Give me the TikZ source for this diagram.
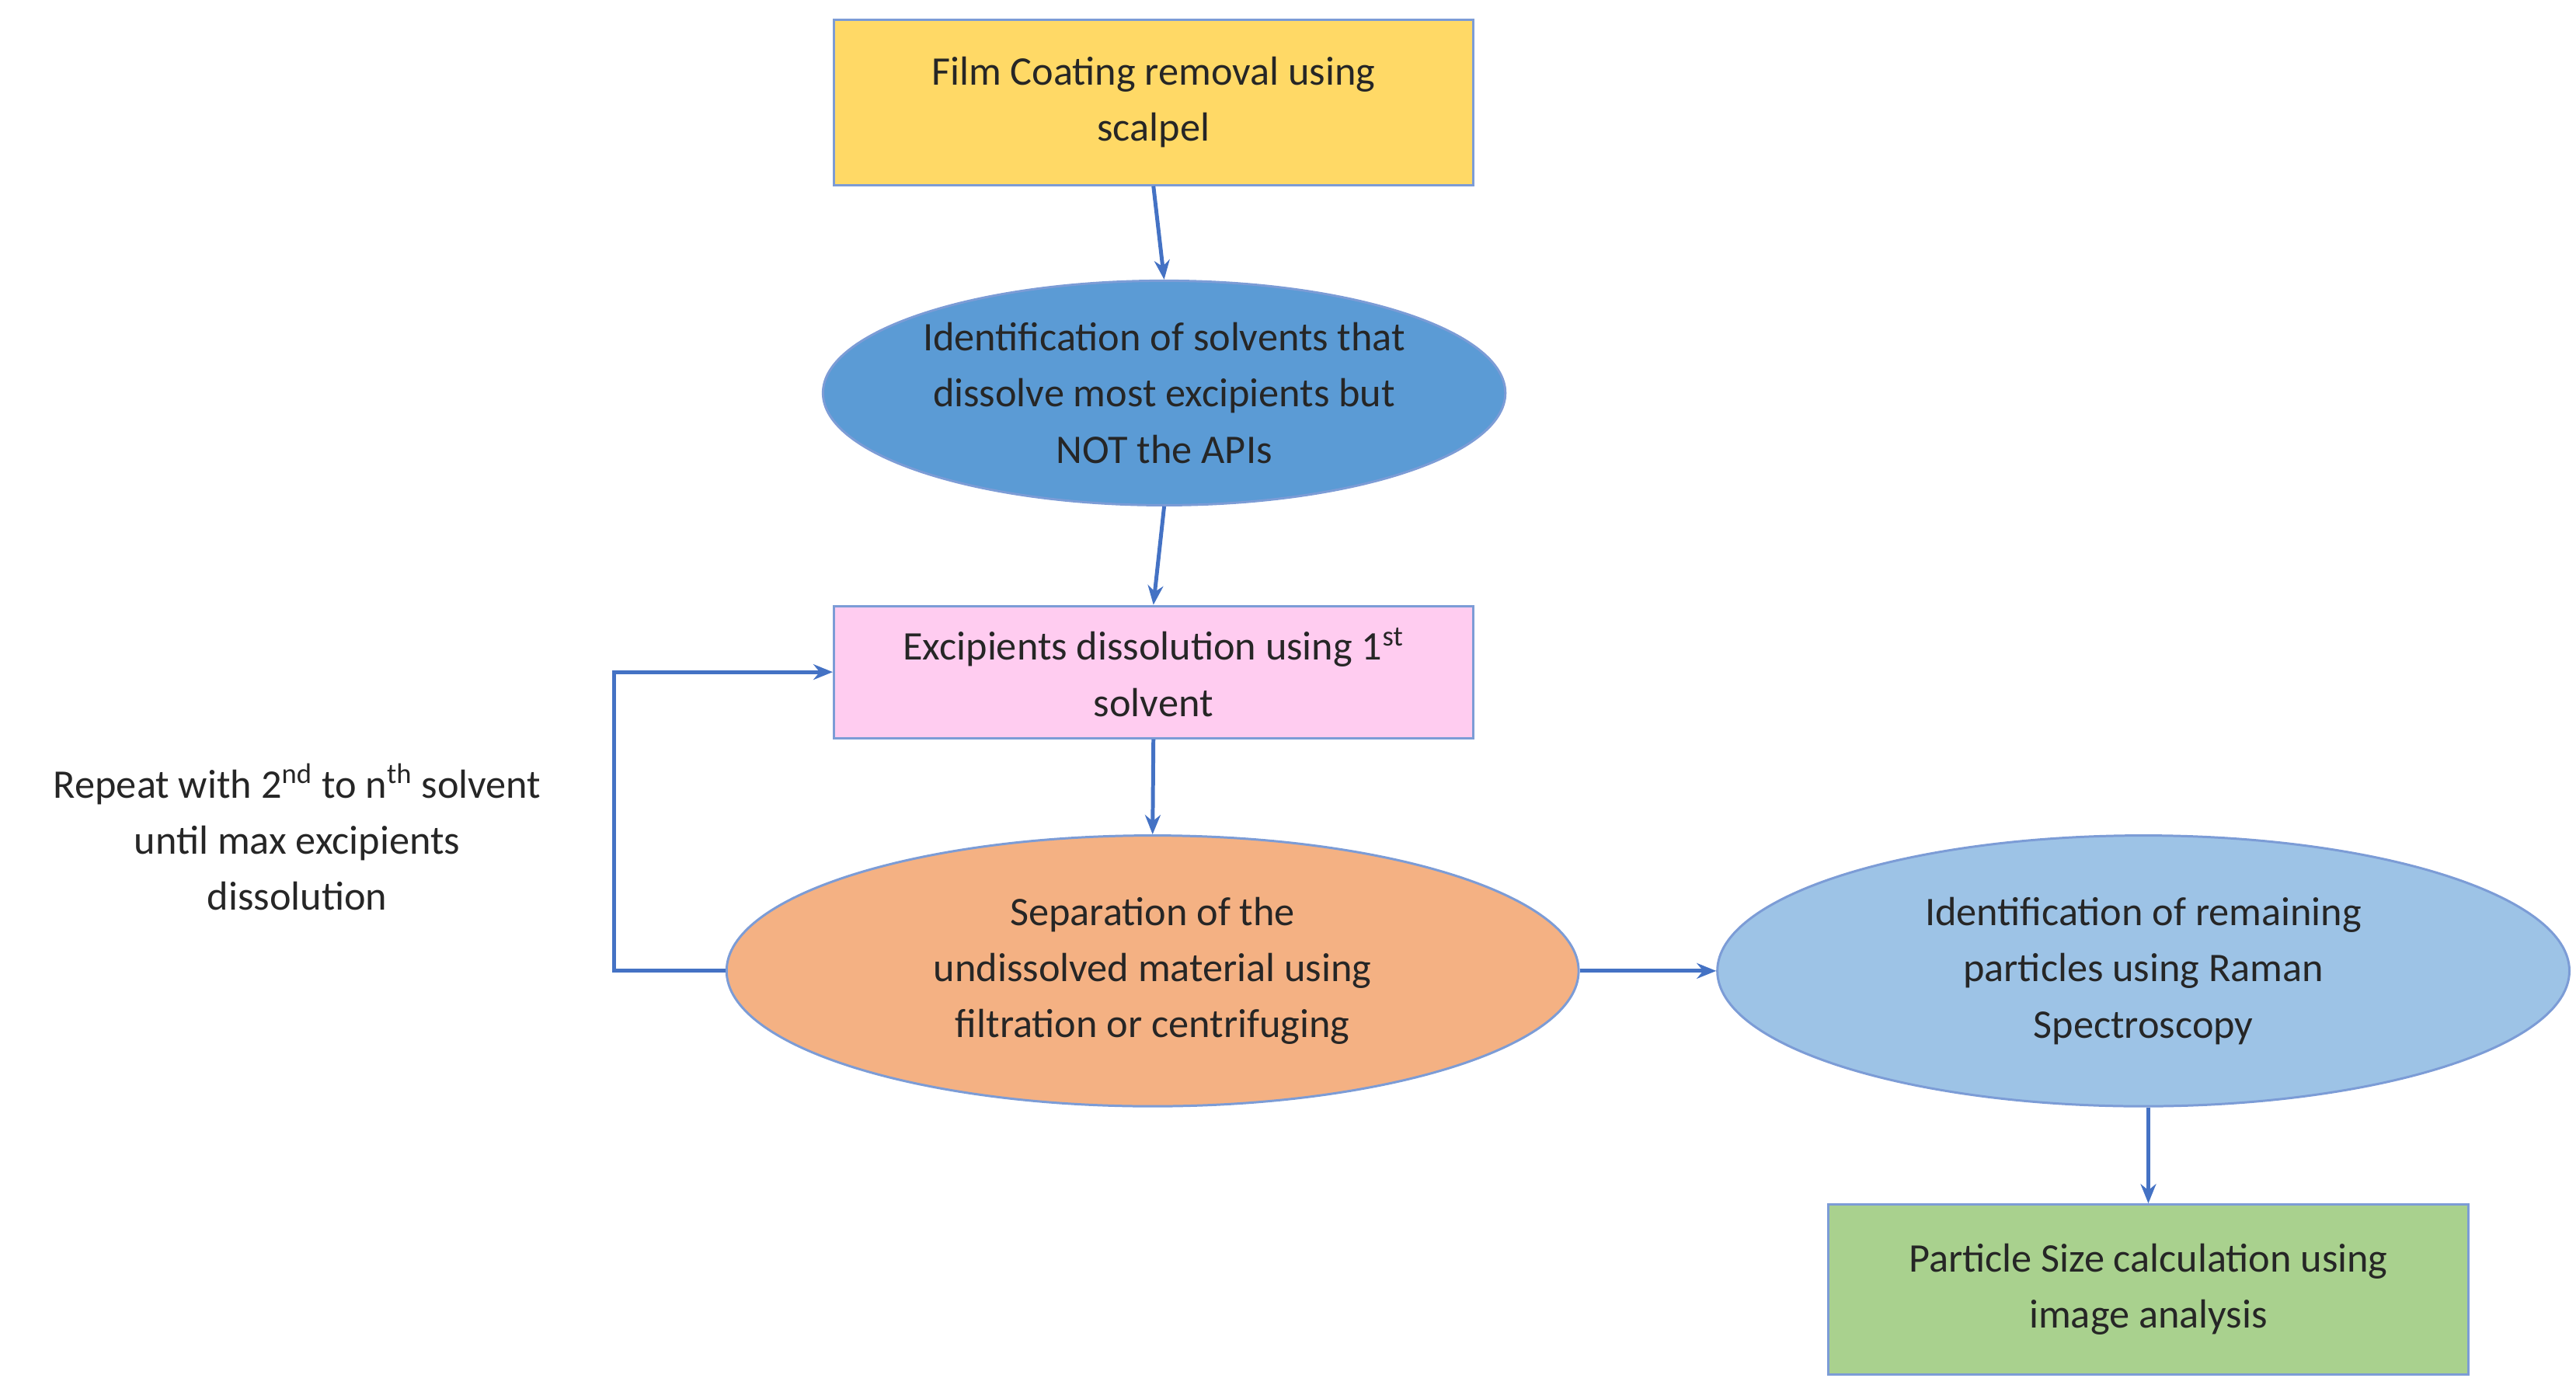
\documentclass[tikz,border=0pt]{standalone}
\usepackage{fontspec}
\setmainfont{Carlito}
\usetikzlibrary{arrows.meta,shapes.geometric}
\definecolor{ln}{HTML}{4472C4}
\begin{document}
\begin{tikzpicture}[x=0.03cm,y=-0.03cm,
  every node/.style={font=\fontsize{21}{29}\selectfont,align=center,text=black!85},
  box/.style={draw=ln!70,line width=1.2pt,rectangle},
  ell/.style={draw=ln!70,line width=1.2pt,ellipse},
  arr/.style={draw=ln,line width=2pt,-{Stealth[length=10pt,width=8pt]}}]
\useasboundingbox (0,0) rectangle (1560,843);
\node[box,fill={rgb,255:red,255;green,217;blue,102},minimum width=387*0.03cm,minimum height=100*0.03cm] (a) at (698.5,62) {Film Coating removal using\\scalpel};
\node[ell,fill={rgb,255:red,91;green,155;blue,213},minimum width=404*0.03cm,minimum height=136*0.03cm,inner sep=0pt] (b) at (705,238) {Identification of solvents that\\dissolve most excipients but\\NOT the APIs};
\node[box,fill={rgb,255:red,255;green,204;blue,240},minimum width=387*0.03cm,minimum height=80*0.03cm] (c) at (698.5,407) {Excipients dissolution using 1\textsuperscript{st}\\solvent};
\node[ell,fill={rgb,255:red,244;green,177;blue,131},minimum width=516*0.03cm,minimum height=164*0.03cm,inner sep=0pt] (d) at (698,588) {Separation of the\\undissolved material using\\filtration or centrifuging};
\node[ell,fill={rgb,255:red,157;green,195;blue,230},minimum width=516*0.03cm,minimum height=164*0.03cm,inner sep=0pt] (e) at (1298,588) {Identification of remaining\\particles using Raman\\Spectroscopy};
\node[box,fill={rgb,255:red,169;green,209;blue,142},minimum width=388*0.03cm,minimum height=103*0.03cm] (f) at (1301,781) {Particle Size calculation using\\image analysis};
\node (t) at (180,507) {Repeat with 2\textsuperscript{nd} to n\textsuperscript{th} solvent\\until max excipients\\dissolution};
\coordinate (l1) at (372,588);
\coordinate (l2) at (372,407);
\draw[arr] (a.south) -- (b.north);
\draw[arr] (b.south) -- (c.north);
\draw[arr] (c.south) -- (d.north);
\draw[arr] (d.east) -- (e.west);
\draw[arr] (e.south -| f.north) -- (f.north);
\draw[arr] (d.west) -- (l1) -- (l2) -- (c.west);
\end{tikzpicture}
\end{document}
